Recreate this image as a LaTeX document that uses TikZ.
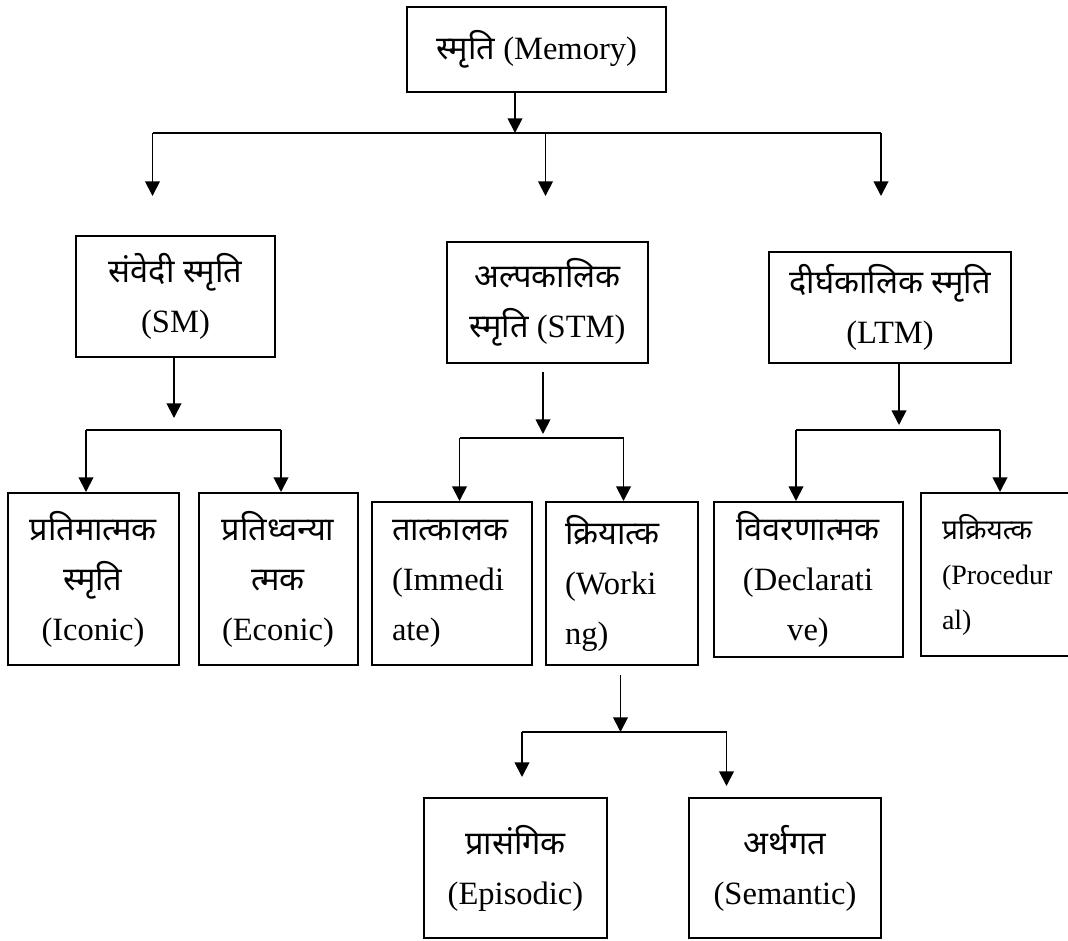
\documentclass[tikz,border=0pt]{standalone}
\usepackage{fontspec}
\setmainfont{Liberation Serif}
\newfontfamily\dev[Script=Devanagari,Scale=1.0]{Noto Sans}
\usetikzlibrary{arrows.meta}
\begin{document}
\begin{tikzpicture}[x=0.75pt,y=-0.75pt,
  box/.style={draw, line width=1.5pt, inner sep=0pt, align=center,
    font=\fontsize{24.4}{37.5}\selectfont},
  lbox/.style={draw, line width=1.5pt, inner ysep=0pt, align=left,
    font=\fontsize{24.4}{37.5}\selectfont},
  conn/.style={line width=1.4pt},
  arr/.style={line width=1.4pt, -{Triangle[width=11pt,length=11pt]}}]
\useasboundingbox (0,0) rectangle (1068,940);

% boxes
\node[box, minimum width=194.25pt, minimum height=63.75pt] (mem) at (536.5,49.5) {{\dev स्मृति} (Memory)};
\node[box, minimum width=149.25pt, minimum height=90.75pt] (sm) at (175.5,296.5) {{\dev संवेदी स्मृति}\\(SM)};
\node[box, minimum width=150.75pt, minimum height=90.75pt] (stm) at (547.5,302.5) {{\dev अल्पकालिक}\\{\dev स्मृति} (STM)};
\node[box, minimum width=181.5pt, minimum height=83.25pt] (ltm) at (890,307.5) {{\dev दीर्घकालिक स्मृति}\\(LTM)};

\node[box, minimum width=128.25pt, minimum height=129pt] (iconic) at (93,579) {{\dev प्रतिमात्मक}\\{\dev स्मृति}\\(Iconic)};
\node[box, minimum width=119.25pt, minimum height=129pt] (econic) at (278,579) {{\dev प्रतिध्वन्या}\\{\dev त्मक}\\(Econic)};
\node[lbox, text width=90pt, inner xsep=15pt, minimum height=122.25pt] (imm) at (452,583.5) {{\dev तात्कालक}\\(Immedi\\ate)};
\node[lbox, text width=85.5pt, inner xsep=14.25pt, minimum height=122.25pt] (work) at (622,583.5) {{\dev क्रियात्क}\\(Worki\\ng)};
\node[box, minimum width=141.75pt, minimum height=116.25pt] (decl) at (808,579.5) {{\dev विवरणात्मक}\\(Declarati\\ve)};
\node[lbox, text width=99pt, inner xsep=15.75pt, minimum height=122.25pt,
  font=\fontsize{21}{33.75}\selectfont] (proc) at (1008,574.5) {{\dev प्रक्रियत्क}\\(Procedur\\al)};

\node[box, minimum width=137.25pt, minimum height=105pt] (epi) at (515.5,868) {{\dev प्रासंगिक}\\(Episodic)};
\node[box, minimum width=144pt, minimum height=105pt] (sem) at (785,868) {{\dev अर्थगत}\\(Semantic)};

% top level connectors
\coordinate (j0) at (515,133);
\coordinate (bl) at (152.5,133);
\coordinate (bm) at (545.5,133);
\coordinate (br) at (881,133);
\coordinate (t1) at (152.5,196);
\coordinate (t2) at (545.5,196);
\coordinate (t3) at (881,196);
\draw[arr] (mem.south -| j0) -- (j0);
\draw[conn] (bl) -- (br);
\draw[arr] (bl) -- (t1);
\draw[arr] (bm) -- (t2);
\draw[arr] (br) -- (t3);

% SM
\coordinate (s0) at (174,418);
\coordinate (sbl) at (86,430);
\coordinate (sbr) at (281,430);
\draw[arr] (sm.south -| s0) -- (s0);
\draw[conn] (sbl) -- (sbr);
\draw[arr] (sbl) -- (sbl |- iconic.north);
\draw[arr] (sbr) -- (sbr |- econic.north);

% STM
\coordinate (m0a) at (543,372);
\coordinate (m0) at (543,434);
\coordinate (mbl) at (459.5,438);
\coordinate (mbr) at (623.5,438);
\draw[arr] (m0a) -- (m0);
\draw[conn] (mbl) -- (mbr);
\draw[arr] (mbl) -- (mbl |- imm.north);
\draw[arr] (mbr) -- (mbr |- work.north);

% LTM
\coordinate (l0) at (899,425);
\coordinate (lbl) at (796,430);
\coordinate (lbr) at (1000,430);
\draw[arr] (ltm.south -| l0) -- (l0);
\draw[conn] (lbl) -- (lbr);
\draw[arr] (lbl) -- (lbl |- decl.north);
\draw[arr] (lbr) -- (lbr |- proc.north);

% Working
\coordinate (w0a) at (620.5,675);
\coordinate (w0) at (620.5,732);
\coordinate (wbl) at (522,732);
\coordinate (wbr) at (726.5,732);
\coordinate (e1) at (522,777);
\coordinate (e2) at (726.5,786);
\draw[arr] (w0a) -- (w0);
\draw[conn] (wbl) -- (wbr);
\draw[arr] (wbl) -- (e1);
\draw[arr] (wbr) -- (e2);
\end{tikzpicture}
\end{document}
